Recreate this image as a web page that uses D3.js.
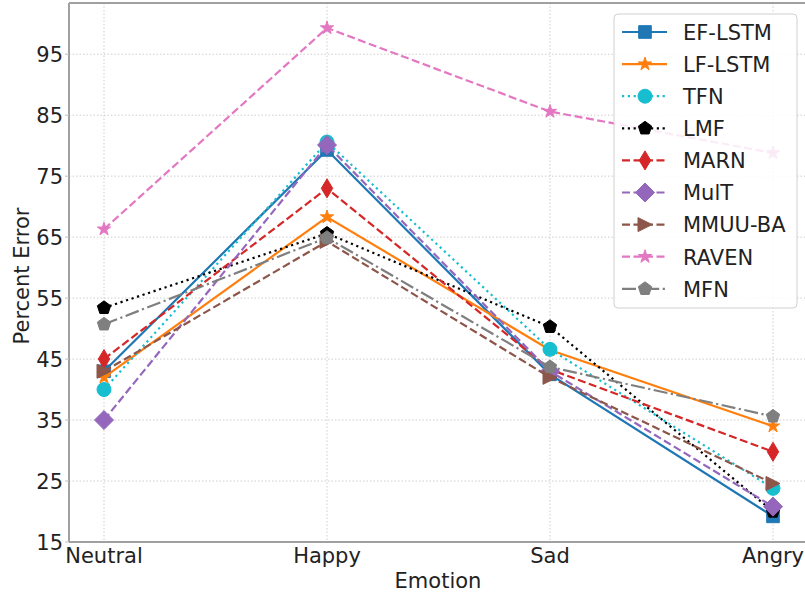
<!DOCTYPE html>
<html><head><meta charset="utf-8">
<script src="https://cdn.jsdelivr.net/npm/d3@7"></script>
<style>body{margin:0;background:#fff}svg{display:block}text{font-family:"DejaVu Sans",sans-serif;fill:#222}</style>
</head><body>
<svg id="c" width="805" height="595"></svg>
<script>
const categories = ["Neutral", "Happy", "Sad", "Angry"];
const yTickValues = [15, 25, 35, 45, 55, 65, 75, 85, 95];
const seriesNames = ["EF-LSTM", "LF-LSTM", "TFN", "LMF", "MARN", "MulT", "MMUU-BA", "RAVEN", "MFN"];
const efLstm = [43.0, 79.3, 42.5, 19.2];
const lfLstm = [42.0, 68.3, 46.5, 34.0];
const tfn    = [40.0, 80.6, 46.6, 23.8];
const lmf    = [53.4, 65.6, 50.3, 20.0];
const marn   = [45.0, 73.0, 43.3, 29.8];
const mult   = [35.0, 80.1, 43.0, 20.8];
const mmuuBa = [43.0, 64.3, 42.0, 24.6];
const raven  = [66.3, 99.3, 85.6, 78.8];
const mfn    = [50.7, 64.9, 43.7, 35.6];
const seriesValues = [efLstm, lfLstm, tfn, lmf, marn, mult, mmuuBa, raven, mfn];

const colors = ["#1f77b4", "#ff7f0e", "#17becf", "#000000", "#d62728", "#9467bd", "#8c564b", "#e377c2", "#7f7f7f"];
const lw = 2.2;
const dashes = ["none", "none", "2.2,3.6", "2.2,3.6", "8,3.5", "8,3.5", "8,3.5", "8,3.5", "14,3.5,2.2,3.5"];
const markers = ["s", "*", "o", "p", "d", "D", ">", "*", "p"];

const svg = d3.select("#c");
const L = 69, T = 3, B = 542;
const x = d3.scaleLinear().domain([0, 3]).range([104, 773]);
const y = d3.scaleLinear().domain([15, 103.4]).range([B, T]);
const R = 806;
const FS = 21;

// grid
const g = svg.append("g");
yTickValues.forEach(v => g.append("line").attr("x1", L).attr("x2", R).attr("y1", y(v)).attr("y2", y(v))
  .attr("stroke", "#c8c8c8").attr("stroke-width", 0.9).attr("stroke-dasharray", "1.5,2"));
categories.forEach((c, i) => g.append("line").attr("x1", x(i)).attr("x2", x(i)).attr("y1", T).attr("y2", B)
  .attr("stroke", "#c8c8c8").attr("stroke-width", 0.9).attr("stroke-dasharray", "1.5,2"));

// markers
function markerPath(m, s) {
  const r = s / 2;
  if (m === "o") return d3.symbol(d3.symbolCircle, Math.PI * r * r)();
  if (m === "s") { const h = s * 0.45; return `M${-h},${-h}L${h},${-h}L${h},${h}L${-h},${h}Z`; }
  if (m === "D") { const h = s * 0.68; return `M0,${-h}L${h},0L0,${h}L${-h},0Z`; }
  if (m === "d") { const h = s * 0.68, w = h * 0.6; return `M0,${-h}L${w},0L0,${h}L${-w},0Z`; }
  if (m === ">") { return `M${r},0L${-r},${-r}L${-r},${r}Z`; }
  if (m === "p") { const pts = d3.range(5).map(k => { const a = -Math.PI / 2 + k * 2 * Math.PI / 5; return [r * Math.cos(a), r * Math.sin(a)]; }); return "M" + pts.join("L") + "Z"; }
  if (m === "*") { const ri = r * 0.381966; const pts = d3.range(10).map(k => { const a = -Math.PI / 2 + k * Math.PI / 5; const rr = k % 2 ? ri : r; return [rr * Math.cos(a), rr * Math.sin(a)]; }); return "M" + pts.join("L") + "Z"; }
}
const msize = 14;

const line = d3.line().x((d, i) => x(i)).y(d => y(d));
seriesValues.forEach((vals, si) => {
  const sg = svg.append("g");
  sg.append("path").attr("d", line(vals)).attr("fill", "none").attr("stroke", colors[si])
    .attr("stroke-width", lw).attr("stroke-dasharray", dashes[si]);
  vals.forEach((v, i) => sg.append("path").attr("d", markerPath(markers[si], msize))
    .attr("transform", `translate(${x(i)},${y(v)})`).attr("fill", colors[si]).attr("stroke", colors[si]).attr("stroke-width", 1));
});

// spines
svg.append("line").attr("x1", L).attr("x2", R).attr("y1", T).attr("y2", T).attr("stroke", "#a0a0a0").attr("stroke-width", 2);
svg.append("line").attr("x1", L).attr("x2", R).attr("y1", B).attr("y2", B).attr("stroke", "#a0a0a0").attr("stroke-width", 2);
svg.append("line").attr("x1", L).attr("x2", L).attr("y1", T).attr("y2", B).attr("stroke", "#a0a0a0").attr("stroke-width", 2);

// y ticks
yTickValues.forEach(v => {
  svg.append("line").attr("x1", L - 4).attr("x2", L).attr("y1", y(v)).attr("y2", y(v)).attr("stroke", "#c0c0c0").attr("stroke-width", 1);
  svg.append("text").attr("x", L - 6).attr("y", y(v) + 7.5).attr("text-anchor", "end").attr("font-size", FS).text(v);
});
categories.forEach((c, i) => {
  svg.append("text").attr("x", x(i)).attr("y", 563).attr("text-anchor", "middle").attr("font-size", FS).text(c);
});
svg.append("text").attr("x", 438).attr("y", 588).attr("text-anchor", "middle").attr("font-size", FS).text("Emotion");
svg.append("text").attr("transform", "translate(29,276) rotate(-90)").attr("text-anchor", "middle").attr("font-size", FS).text("Percent Error");

// legend
const lg = svg.append("g");
lg.append("rect").attr("x", 614).attr("y", 14).attr("width", 183).attr("height", 294).attr("rx", 4)
  .attr("fill", "rgba(255,255,255,0.85)").attr("stroke", "#d0d0d0").attr("stroke-width", 1);
seriesNames.forEach((n, si) => {
  const cy = 32 + si * 32.1;
  lg.append("line").attr("x1", 622).attr("x2", 667).attr("y1", cy).attr("y2", cy).attr("stroke", colors[si])
    .attr("stroke-width", lw).attr("stroke-dasharray", dashes[si]);
  lg.append("path").attr("d", markerPath(markers[si], msize)).attr("transform", `translate(645,${cy})`)
    .attr("fill", colors[si]).attr("stroke", colors[si]).attr("stroke-width", 1);
  lg.append("text").attr("x", 683).attr("y", cy + 7.8).attr("font-size", FS).text(n);
});
</script>
</body></html>
